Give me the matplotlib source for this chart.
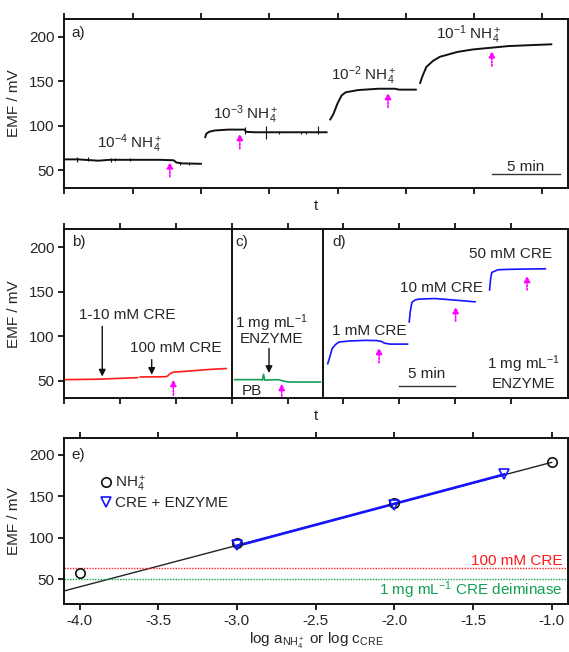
import numpy as np
import matplotlib
matplotlib.use("Agg")
import matplotlib.pyplot as plt

plt.rcParams['font.family'] = ['Liberation Sans', 'DejaVu Sans']
plt.rcParams['mathtext.fontset'] = 'custom'
plt.rcParams['mathtext.rm'] = 'Liberation Sans'
plt.rcParams['mathtext.it'] = 'Liberation Sans:italic'
plt.rcParams['mathtext.bf'] = 'Liberation Sans:bold'
plt.rcParams['axes.unicode_minus'] = True

TXT = '#262626'
MAG = '#ff00ff'
RED = '#ff1a1a'
GRN = '#12a052'
BLU = '#1414ff'

# ---------------- Panel a data (time in min, EMF in mV) ----------------
a1_t = [0.0, 1.0, 2.0, 2.5, 3.3, 5.0, 7.0, 8.0, 8.2, 8.6, 10.0]
a1_v = [62, 62, 61, 60.5, 61.5, 61.5, 61.5, 61, 58.5, 57.5, 57]
a2_t = [10.32, 10.4, 10.6, 11.0, 12.0, 13.2, 13.3, 14.0, 19.2]
a2_v = [87, 91, 93, 94.5, 95.5, 95.5, 93, 92.5, 92.5]
a3_t = [19.47, 19.7, 20.0, 20.3, 20.6, 21.5, 23.0, 24.2, 24.5, 25.73]
a3_v = [107, 113, 125, 134, 137.5, 140, 141.5, 141.5, 140.5, 140.5]
a4_t = [26.05, 26.2, 26.5, 27.0, 27.5, 28.8, 29.9, 31.2, 32.5, 34.0, 35.65]
a4_v = [148, 155, 166, 173, 177.5, 183, 185.7, 187.6, 189.5, 190.5, 191.5]
a_spike_t = [0.93, 1.73, 3.4, 3.7, 4.8, 8.5, 9.1, 13.2, 14.75, 15.7, 17.3, 17.7, 18.6]
a_spike_lo = [59.5, 60, 59.5, 60, 60, 55.5, 55.5, 91, 84.5, 91, 91, 91, 91]
a_spike_hi = [65, 64.5, 64, 64, 63.5, 59, 59, 98.6, 99.4, 94, 94, 94, 100]
a_labels = ['10$^{-4}$ NH$_4^+$', '10$^{-3}$ NH$_4^+$', '10$^{-2}$ NH$_4^+$', '10$^{-1}$ NH$_4^+$']
a_label_t = [4.8, 13.3, 21.9, 29.6]
a_label_v = [80, 112, 156, 202]
a_arrow_t = [7.73, 12.85, 23.7, 31.3]
a_arrow_tail = [42.5, 74, 120.5, 167]
a_arrow_head = [59, 91, 137, 184]

# ---------------- Panel b-d data ----------------
b1_t = [0.0, 3.0, 6.56]
b1_v = [51, 51.5, 53.2]
b2_t = [6.8, 9.1, 9.3, 9.5, 9.8, 11.0, 13.0, 14.5]
b2_v = [54, 54.3, 55.5, 58, 59.5, 60.5, 62.5, 63.5]
c_t = [15.26, 17.6, 17.75, 17.85, 17.95, 19.2, 19.6, 20.1, 22.95]
c_v = [51, 51, 50.5, 57, 50.5, 51, 49.5, 48.3, 48.3]
d1_t = [23.6, 23.8, 24.0, 24.3, 24.6, 25.5, 27.0, 28.0, 28.4, 28.7, 29.2, 30.75]
d1_v = [68.9, 77, 86, 90.5, 93.3, 94.5, 95.2, 95, 94, 92, 91, 91]
d2_t = [30.9, 31.0, 31.14, 31.4, 31.72, 33.2, 35.0, 36.8]
d2_v = [116, 128, 137.8, 140.5, 141.6, 142.3, 140.5, 138.6]
d3_t = [38.1, 38.2, 38.3, 38.86, 40.0, 43.1]
d3_v = [152, 165, 171.7, 174.7, 175.2, 175.8]
bd_arrow_t = [9.77, 19.48, 28.2, 35.06, 41.46]
bd_arrow_tail = [33.5, 32.5, 70, 117, 152]
bd_arrow_head = [51, 46.5, 87, 133, 168]

# ---------------- Panel e data ----------------
log_nh4 = [-4.0, -3.0, -2.0, -1.0]
emf_nh4 = [58, 94, 142.5, 191.5]
log_cre = [-3.0, -2.0, -1.3]
emf_cre = [91, 139.5, 177.5]
fit_nh4_slope, fit_nh4_icpt = 50.0, 241.0
cre_100mM_level = 63.8
enzyme_level = 50.4

fig = plt.figure(figsize=(5.69, 6.52), dpi=100)
W, H = 569.0, 652.0

def axrect(l, r, t, b):
    return [l / W, 1 - b / H, (r - l) / W, (b - t) / H]

ax_a = fig.add_axes(axrect(64.3, 567.7, 19, 187.8))
ax_b = fig.add_axes(axrect(64.3, 567.7, 229.5, 398.3))
ax_e = fig.add_axes(axrect(64.3, 567.7, 438.3, 604.3))

for ax in (ax_a, ax_b, ax_e):
    for s in ax.spines.values():
        s.set_linewidth(1.4)
        s.set_color('#111111')
    ax.tick_params(direction='out', length=4, width=1.3, colors='#111111',
                   labelcolor=TXT, labelsize=11, pad=3, top=True, right=False)
    ax.set_yticks([50, 100, 150, 200])
    ax.set_ylabel('EMF / mV', fontsize=11, color=TXT)
    ax.yaxis.set_label_coords(-0.087, 0.5)

def mag_arrow(ax, x, y0, y1):
    ax.annotate('', xy=(x, y1), xytext=(x, y0),
                arrowprops=dict(arrowstyle='-|>', color=MAG, lw=1.2, linestyle=(0, (1, 1)),
                                mutation_scale=9, shrinkA=0, shrinkB=0))

def blk_arrow(ax, x, y0, y1):
    ax.annotate('', xy=(x, y1), xytext=(x, y0),
                arrowprops=dict(arrowstyle='-|>', color='#111111', lw=1.0,
                                mutation_scale=10, shrinkA=0, shrinkB=0))

# ---------------- Panel a ----------------
ax = ax_a
ax.set_xlim(0, 36.85)
ax.set_ylim(30, 220)
ax.set_xticks(np.arange(0, 36, 5))
ax.tick_params(labelbottom=False)
for tt, vv in ((a1_t, a1_v), (a2_t, a2_v), (a3_t, a3_v), (a4_t, a4_v)):
    ax.plot(tt, vv, color='#111111', lw=1.4)
ax.vlines(a_spike_t, a_spike_lo, a_spike_hi, color='#111111', lw=0.8)
for lab, x, y in zip(a_labels, a_label_t, a_label_v):
    ax.text(x, y, lab, ha='center', va='center', fontsize=11, color=TXT)
for x, y0, y1 in zip(a_arrow_t, a_arrow_tail, a_arrow_head):
    mag_arrow(ax, x, y0, y1)
ax.plot([31.3, 36.3], [45, 45], color='#333333', lw=1.0)
ax.text(33.8, 53, '5 min', ha='center', va='center', fontsize=11, color=TXT)
ax.text(0.54, 204, 'a)', ha='left', va='center', fontsize=11, color=TXT)
ax.set_xlabel('t', fontsize=11, color=TXT)
ax.xaxis.set_label_coords(0.5, -0.065)

# ---------------- Panel b-d ----------------
ax = ax_b
ax.set_xlim(0, 45.1)
ax.set_ylim(30, 220)
ax.set_xticks(np.arange(0, 45, 5))
ax.tick_params(labelbottom=False)
ax.axvline(15.0, color='#111111', lw=1.4)
ax.axvline(23.15, color='#111111', lw=1.4)
ax.plot(b1_t, b1_v, color=RED, lw=1.2)
ax.plot(b2_t, b2_v, color=RED, lw=1.2)
ax.plot(c_t, c_v, color=GRN, lw=1.2)
for tt, vv in ((d1_t, d1_v), (d2_t, d2_v), (d3_t, d3_v)):
    ax.plot(tt, vv, color=BLU, lw=1.2)
for x, y0, y1 in zip(bd_arrow_t, bd_arrow_tail, bd_arrow_head):
    mag_arrow(ax, x, y0, y1)
blk_arrow(ax, 3.4, 111, 54.5)
blk_arrow(ax, 7.83, 73.5, 56.5)
blk_arrow(ax, 18.34, 86, 58.5)
ax.text(5.6, 123.5, '1-10 mM CRE', ha='center', va='center', fontsize=11, color=TXT)
ax.text(9.97, 86.5, '100 mM CRE', ha='center', va='center', fontsize=11, color=TXT)
ax.text(18.57, 115, '1 mg mL$^{-1}$', ha='center', va='center', fontsize=11, color=TXT)
ax.text(18.57, 96.5, 'ENZYME', ha='center', va='center', fontsize=11, color=TXT)
ax.text(16.8, 38, 'PB', ha='center', va='center', fontsize=11, color=TXT)
ax.text(27.3, 106, '1 mM CRE', ha='center', va='center', fontsize=11, color=TXT)
ax.text(33.8, 153.6, '10 mM CRE', ha='center', va='center', fontsize=11, color=TXT)
ax.text(40.0, 192.5, '50 mM CRE', ha='center', va='center', fontsize=11, color=TXT)
ax.text(41.1, 68, '1 mg mL$^{-1}$', ha='center', va='center', fontsize=11, color=TXT)
ax.text(41.1, 46, 'ENZYME', ha='center', va='center', fontsize=11, color=TXT)
ax.plot([30.0, 35.0], [44.3, 44.3], color='#333333', lw=1.0)
ax.text(32.5, 56.8, '5 min', ha='center', va='center', fontsize=11, color=TXT)
ax.text(0.66, 206, 'b)', ha='left', va='center', fontsize=11, color=TXT)
ax.text(15.35, 206, 'c)', ha='left', va='center', fontsize=11, color=TXT)
ax.text(24.0, 206, 'd)', ha='left', va='center', fontsize=11, color=TXT)
ax.set_xlabel('t', fontsize=11, color=TXT)
ax.xaxis.set_label_coords(0.5, -0.065)

# ---------------- Panel e ----------------
ax = ax_e
ax.set_xlim(-4.097, -0.898)
ax.set_ylim(20, 220)
xt = np.arange(-4.0, -0.99, 0.5)
ax.set_xticks(xt)
ax.set_xticklabels([f'{v:.1f}' for v in xt])
ax.tick_params(labeltop=False)
xl = np.array([-4.097, -1.0])
ax.plot(xl, fit_nh4_slope * xl + fit_nh4_icpt, color='#222222', lw=1.0, zorder=2)
cfit = np.polyfit(log_cre, emf_cre, 1)
xc = np.array([log_cre[0], log_cre[-1]])
ax.plot(xc, np.polyval(cfit, xc), color=BLU, lw=1.9, zorder=3)
ax.axhline(cre_100mM_level, color=RED, lw=1.0, linestyle=(0, (1, 1)))
ax.axhline(enzyme_level, color=GRN, lw=1.0, linestyle=(0, (1, 1)))
ax.plot(log_nh4, emf_nh4, 'o', mfc='none', mec='#111111', mew=1.2, ms=6.8, zorder=4, label='NH$_4^+$')
ax.plot(log_cre, emf_cre, 'v', mfc='none', mec=BLU, mew=1.2, ms=6.5, zorder=5, label='CRE + ENZYME')
ax.legend(loc='upper left', bbox_to_anchor=(0.074, 0.785), frameon=False, fontsize=11,
          handlelength=0.6, handletextpad=0.25, labelspacing=0.15, borderpad=0, borderaxespad=0,
          labelcolor=TXT)
ax.text(-0.93, 72, '100 mM CRE', ha='right', va='center', fontsize=11, color=RED)
ax.text(-0.93, 36.8, '1 mg mL$^{-1}$ CRE deiminase', ha='right', va='center', fontsize=11, color=GRN)
ax.text(-4.05, 200, 'e)', ha='left', va='center', fontsize=11, color=TXT)
ax.set_xlabel('log a$_{\\mathrm{NH_4^+}}$ or log c$_{\\mathrm{CRE}}$', fontsize=11, color=TXT, labelpad=2)

fig.savefig('out.png', dpi=100)
